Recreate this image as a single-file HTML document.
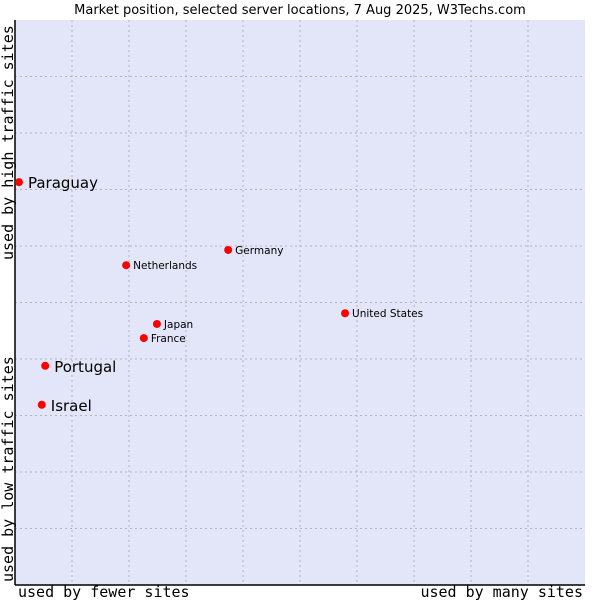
<!DOCTYPE html>
<html><head><meta charset="utf-8"><style>
body{margin:0;background:#fff;}
svg text{font-family:"DejaVu Sans","Liberation Sans",sans-serif;}
svg text.mono{font-family:"DejaVu Sans Mono","Liberation Mono",monospace;}
</style></head><body>
<svg id="chart" width="600" height="600" xmlns="http://www.w3.org/2000/svg">
<text x="300" y="14" font-size="13" text-anchor="middle" fill="#000">Market position, selected server locations, 7 Aug 2025, W3Techs.com</text>
<rect x="15" y="20" width="570" height="565" fill="#e3e5f8"/>
<g id="grid"></g>
<line x1="15" y1="20" x2="15" y2="585" stroke="#000" stroke-width="1.5"/>
<line x1="15" y1="585" x2="585" y2="585" stroke="#000" stroke-width="1.5"/>
<text class="mono" x="18" y="597" font-size="15">used by fewer sites</text>
<text class="mono" x="583" y="597" font-size="15" text-anchor="end">used by many sites</text>
<text class="mono" transform="translate(13,582) rotate(-90)" font-size="15">used by low traffic sites</text>
<text class="mono" transform="translate(13,260) rotate(-90)" font-size="15">used by high traffic sites</text>
<g id="points"></g>
</svg>
<script>
const names=["Paraguay","Portugal","Israel","Netherlands","Germany","Japan","France","United States"];
const xVals=[0.7,5.3,4.7,19.5,37.4,24.9,22.6,57.9];
const yVals=[71.3,38.8,31.9,56.6,59.3,46.2,43.7,48.1];
const bigLabel=[true,true,true,false,false,false,false,false];
const NS="http://www.w3.org/2000/svg";
const L=15,R=585,T=20,B=585;
const sx=v=>L+v/100*(R-L), sy=v=>B-v/100*(B-T);
const grid=document.getElementById('grid');
for(let i=1;i<10;i++){
  const v=document.createElementNS(NS,'line');
  
  
  v.setAttribute('x1',sx(i*10));v.setAttribute('x2',sx(i*10));v.setAttribute('y1',T);v.setAttribute('y2',B);
  v.setAttribute('stroke','#b4b4c0');v.setAttribute('stroke-dasharray','2,3');grid.appendChild(v);
  const h=document.createElementNS(NS,'line');
  
  
  h.setAttribute('y1',sy(i*10));h.setAttribute('y2',sy(i*10));h.setAttribute('x1',L);h.setAttribute('x2',R);
  h.setAttribute('stroke','#b4b4c0');h.setAttribute('stroke-dasharray','2,3');grid.appendChild(h);
}
const pts=document.getElementById('points');
names.forEach((n,i)=>{
  const x=sx(xVals[i]),y=sy(yVals[i]);
  const c=document.createElementNS(NS,'circle');
  
  
  c.setAttribute('cx',x);c.setAttribute('cy',y);c.setAttribute('r',4);c.setAttribute('fill','#f00');
  pts.appendChild(c);
  const t=document.createElementNS(NS,'text');
  
  
  const big=bigLabel[i];
  t.setAttribute('x',x+(big?9:7));t.setAttribute('y',y+(big?6:4));
  t.setAttribute('font-size',big?15:10.5);
  t.textContent=n;pts.appendChild(t);
});
</script>
</body></html>
